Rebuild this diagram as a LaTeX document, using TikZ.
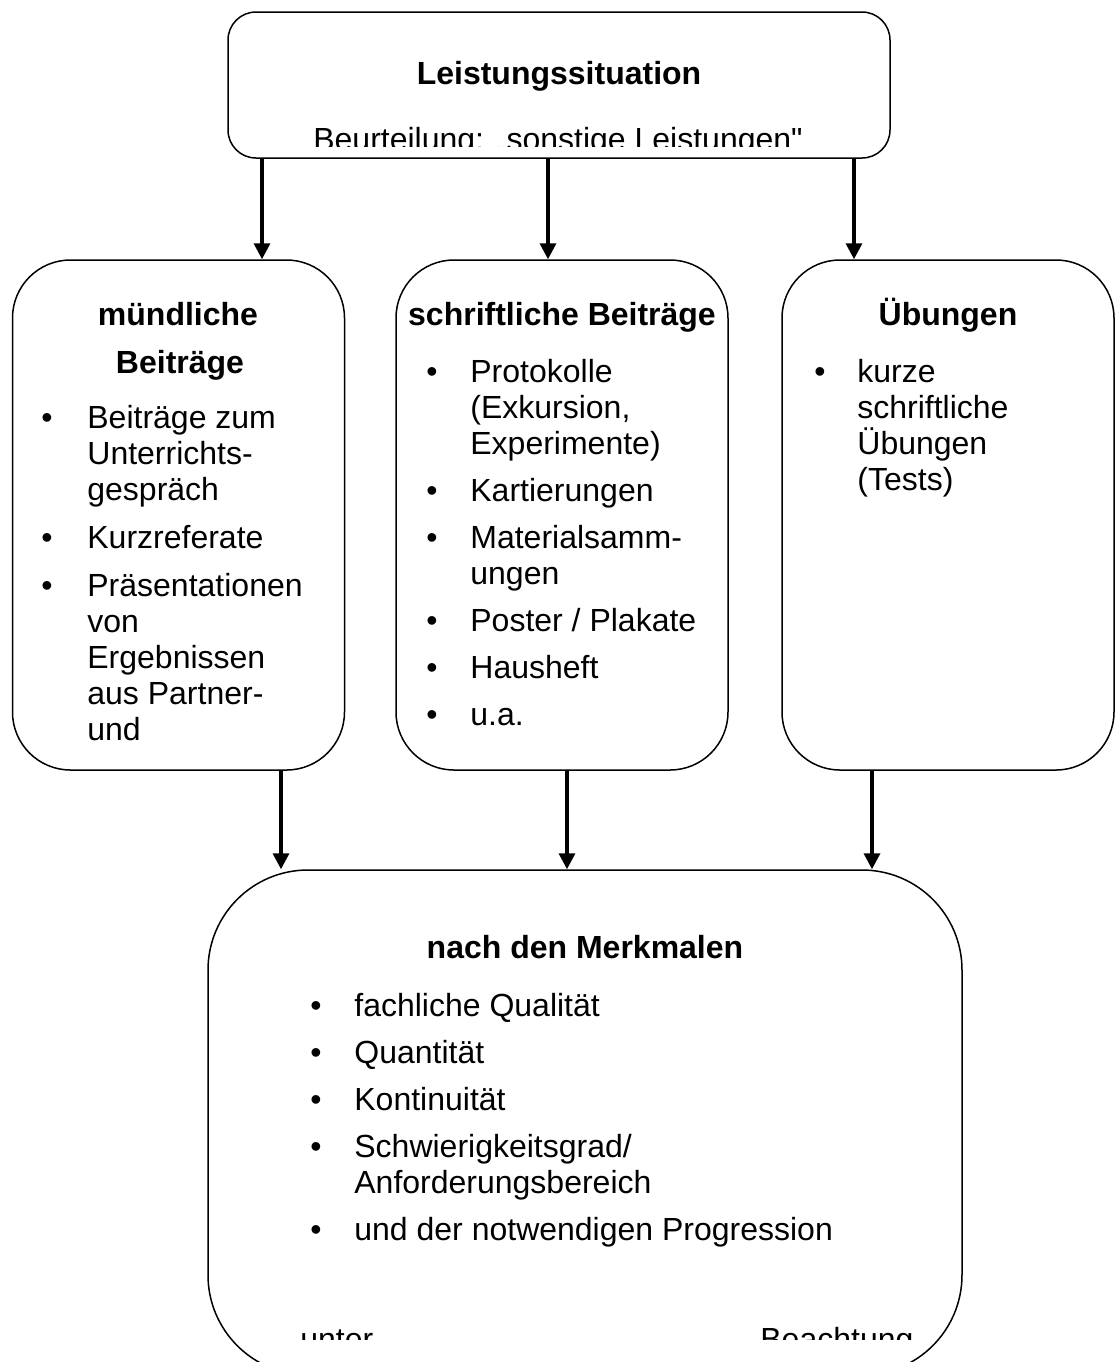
\documentclass[tikz,border=0pt]{standalone}
\usepackage{fontspec}
\setmainfont{Liberation Sans}
\newfontfamily\plainfont{Liberation Sans}
\usetikzlibrary{arrows.meta,positioning}

\begin{document}
\begin{tikzpicture}[x=0.5pt,y=-0.5pt,
  box/.style={rectangle, draw, line width=0.75pt, inner sep=0pt},
  side/.style={box, rounded corners=29pt, minimum width=166pt, minimum height=255pt},
  hd/.style={anchor=base, inner sep=0pt, font=\bfseries\fontsize{16}{18}\selectfont},
  txt/.style={anchor=base west, inner sep=0pt, font=\fontsize{16}{18}\selectfont},
  bul/.style={anchor=base, inner sep=0pt, font=\fontsize{16}{18}\selectfont},
  arr/.style={-{Triangle[length=8pt,width=8pt]}, line width=1.7pt}
]
  \clip (0,0) rectangle (1115,1362);

  % boxes
  \node[box, rounded corners=14pt, minimum width=331pt, minimum height=73pt] (sit) at (559,85) {};
  \node[side] (mund) at (178.5,515) {};
  \node[side] (schrift) at (562,515) {};
  \node[side] (uebung) at (948,515) {};
  \node[box, rounded corners=50pt, minimum width=377pt, minimum height=252.5pt] (merk) at (585,1122.5) {};

  % top box
  \node[hd] (sittitle) at (559,84) {Leistungssituation};
  \begin{scope}
    \clip (228,100) rectangle (890,146);
    \node[bul] (beurt) at (558,150) {\plainfont Beurteilung: „sonstige Leistungen"};
  \end{scope}

  % muendliche Beitraege
  \node[hd] (mundtitle) at (178,325) {mündliche};
  \node[hd] (mundtitleb) at (180,373) {Beiträge};
  \node[bul] (mb1) at (47,428) {•};
  \node[bul] (mb2) at (47,548) {•};
  \node[bul] (mb3) at (47,596) {•};
  \node[txt] (m1) at (87,428) {Beiträge zum};
  \node[txt] (m2) at (87,464) {Unterrichts-};
  \node[txt] (m3) at (87,500) {gespräch};
  \node[txt] (m4) at (87,548) {Kurzreferate};
  \node[txt] (m5) at (87,596) {Präsentationen};
  \node[txt] (m6) at (87,632) {von};
  \node[txt] (m7) at (87,668) {Ergebnissen};
  \node[txt] (m8) at (87,704) {aus Partner-};
  \begin{scope}
    \clip (12,700) rectangle (345,746);
    \node[txt] (m9) at (87,740) {und};
  \end{scope}

  % schriftliche Beitraege
  \node[hd] (schrifttitle) at (562,325) {schriftliche Beiträge};
  \node[bul] (sb1) at (432,382) {•};
  \node[bul] (sb2) at (432,501) {•};
  \node[bul] (sb3) at (432,548) {•};
  \node[bul] (sb4) at (432,631) {•};
  \node[bul] (sb5) at (432,678) {•};
  \node[bul] (sb6) at (432,725) {•};
  \node[txt] (s1) at (470,382) {Protokolle};
  \node[txt] (s2) at (470,418) {(Exkursion,};
  \node[txt] (s3) at (470,454) {Experimente)};
  \node[txt] (s4) at (470,501) {Kartierungen};
  \node[txt] (s5) at (470,548) {Materialsamm-};
  \node[txt] (s6) at (470,584) {ungen};
  \node[txt] (s7) at (470,631) {Poster / Plakate};
  \node[txt] (s8) at (470,678) {Hausheft};
  \node[txt] (s9) at (470,725) {u.a.};

  % Uebungen
  \node[hd] (uebtitle) at (948,325) {Übungen};
  \node[bul] (ub1) at (820,382) {•};
  \node[txt] (u1) at (857,382) {kurze};
  \node[txt] (u2) at (857,418) {schriftliche};
  \node[txt] (u3) at (857,454) {Übungen};
  \node[txt] (u4) at (857,490) {(Tests)};

  % Merkmale
  \node[hd] (merktitle) at (585,958) {nach den Merkmalen};
  \node[bul] (kb1) at (316,1016) {•};
  \node[bul] (kb2) at (316,1063) {•};
  \node[bul] (kb3) at (316,1110) {•};
  \node[bul] (kb4) at (316,1157) {•};
  \node[bul] (kb5) at (316,1240) {•};
  \node[txt] (k1) at (354,1016) {fachliche Qualität};
  \node[txt] (k2) at (354,1063) {Quantität};
  \node[txt] (k3) at (354,1110) {Kontinuität};
  \node[txt] (k4) at (354,1157) {Schwierigkeitsgrad/};
  \node[txt] (k5) at (354,1193) {Anforderungsbereich};
  \node[txt] (k6) at (354,1240) {und der notwendigen Progression};
  \begin{scope}
    \clip (208,1300) rectangle (962,1339);
    \node[txt] (k7) at (300,1350) {unter};
    \node[txt] (k8) at (760,1350) {Beachtung};
  \end{scope}

  % arrows
  \draw[arr] (sit.south -| 262,0) -- (mund.north -| 262,0);
  \draw[arr] (sit.south -| 548,0) -- (schrift.north -| 548,0);
  \draw[arr] (sit.south -| 854,0) -- (uebung.north -| 854,0);
  \draw[arr] (mund.south -| 281,0) -- (merk.north -| 281,0);
  \draw[arr] (schrift.south -| 567,0) -- (merk.north -| 567,0);
  \draw[arr] (uebung.south -| 872,0) -- (merk.north -| 872,0);
\end{tikzpicture}
\end{document}
